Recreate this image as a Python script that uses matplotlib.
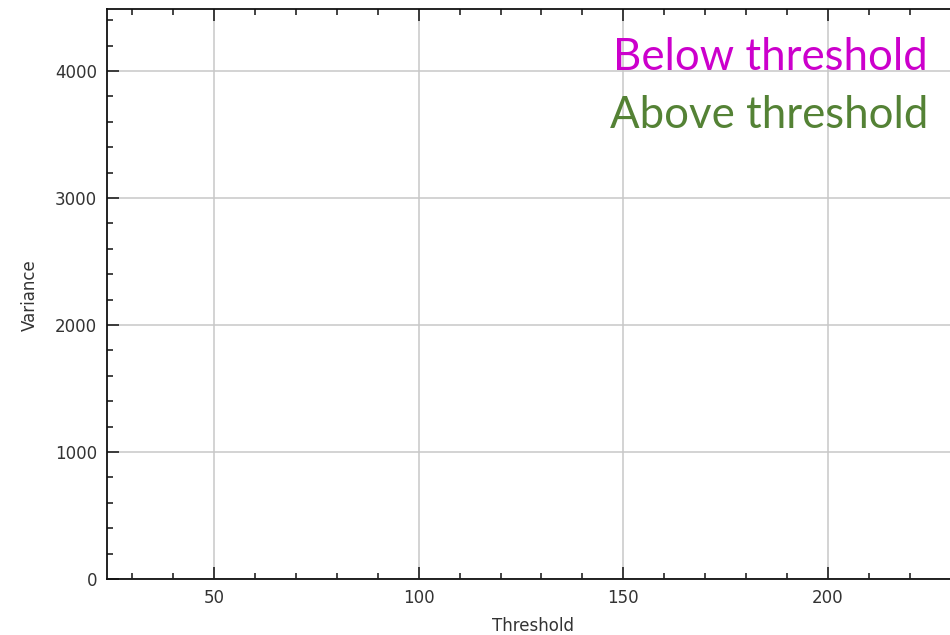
import matplotlib
matplotlib.use("Agg")
import matplotlib.pyplot as plt
from matplotlib.ticker import MultipleLocator

# Data (the chart shows no plotted points)
thresholds = []
variance_below = []
variance_above = []
series_labels = ["Below threshold", "Above threshold"]
series_colors = ["#CC00CC", "#548235"]

x_range = (23.86, 235.9)
y_range = (0, 4488)

fig = plt.figure(figsize=(9.5, 6.35), dpi=100)
W, H = 950, 635
left, right, top, bottom = 107, 975, 9, 579
ax = fig.add_axes([left / W, (H - bottom) / H, (right - left) / W, (bottom - top) / H])

ax.plot(thresholds, variance_below, color=series_colors[0])
ax.plot(thresholds, variance_above, color=series_colors[1])

ax.set_xlim(*x_range)
ax.set_ylim(*y_range)
ax.xaxis.set_major_locator(MultipleLocator(50))
ax.xaxis.set_minor_locator(MultipleLocator(10))
ax.yaxis.set_major_locator(MultipleLocator(1000))
ax.yaxis.set_minor_locator(MultipleLocator(200))

ax.grid(True, which="major", color="#C8C8C8", linewidth=1.1)
ax.set_axisbelow(True)
for s in ax.spines.values():
    s.set_linewidth(1.3)
    s.set_color("#111111")

ax.tick_params(which="both", direction="in", top=True, right=False,
               color="#111111", labelcolor="#333333", labelsize=12, pad=7)
ax.tick_params(which="major", length=8.3, width=1.1)
ax.tick_params(which="minor", length=4.3, width=1.1)

ax.set_xlabel("Threshold", fontsize=12, color="#333333")
ax.set_ylabel("Variance", fontsize=12, color="#333333")
ax.xaxis.set_label_coords((533 - left) / (right - left), (bottom - 626) / (bottom - top))
ax.xaxis.label.set_va("center")
ax.yaxis.set_label_coords((30 - left) / (right - left), (bottom - 295) / (bottom - top))
ax.yaxis.label.set_va("center")

tx = (928 - left) / (right - left)
for lab, col, yb in zip(series_labels, series_colors, [70, 128]):
    ax.text(tx, (bottom - yb) / (bottom - top), lab, transform=ax.transAxes,
            ha="right", va="baseline", color=col, fontsize=31.5, family="Lato")

fig.savefig("out.png", dpi=100)
